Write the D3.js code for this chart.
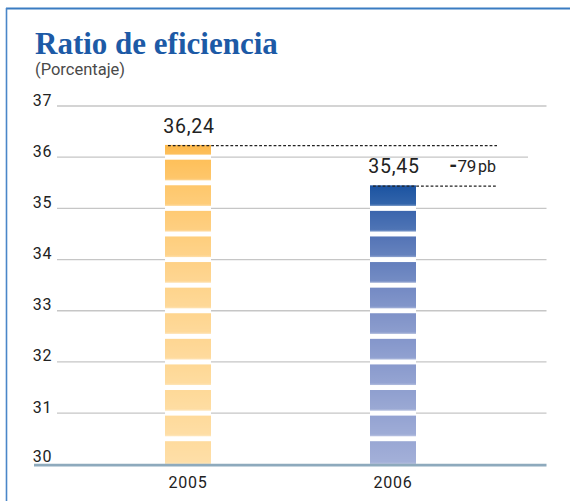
<!DOCTYPE html>
<html>
<head>
<meta charset="utf-8">
<script src="https://cdn.jsdelivr.net/npm/d3@7"></script>
<style>
  html, body { margin: 0; padding: 0; background: #fff; }
  svg { display: block; }
  .tick-label, .cat-label { font-family: Roboto, "Liberation Sans", sans-serif; fill: #222; }
</style>
</head>
<body>
<div id="chart"></div>
<script>
// data
const years = ["2005", "2006"];
const ratios = [36.24, 35.45];
const valueLabels = ["36,24", "35,45"];
const yTicks = [30, 31, 32, 33, 34, 35, 36, 37];
const deltaValue = "79";
const deltaUnit = "pb";
const titleText = "Ratio de eficiencia";
const subtitleText = "(Porcentaje)";

const W = 570, H = 501;
const base = 30;

const svg = d3.select("#chart")
  .append("svg")
  .attr("width", W)
  .attr("height", H);

const defs = svg.append("defs");
const shade = defs.append("linearGradient")
  .attr("id", "shade")
  .attr("x1", 0).attr("y1", 0).attr("x2", 0).attr("y2", 1);
shade.append("stop").attr("offset", "0%").attr("stop-color", "#fff").attr("stop-opacity", 0);
shade.append("stop").attr("offset", "90%").attr("stop-color", "#fff").attr("stop-opacity", 0.1);
shade.append("stop").attr("offset", "100%").attr("stop-color", "#fff").attr("stop-opacity", 0.35);

// frame
svg.append("line")
  .attr("x1", 6).attr("x2", W).attr("y1", 8.5).attr("y2", 8.5)
  .attr("stroke", "#3a7cc2").attr("stroke-width", 2);
svg.append("line")
  .attr("x1", 6.5).attr("x2", 6.5).attr("y1", 8).attr("y2", H)
  .attr("stroke", "#4a86c8").attr("stroke-width", 1.6);

// titles
svg.append("text")
  .attr("x", 35).attr("y", 54)
  .attr("font-family", "'Liberation Serif', 'DejaVu Serif', serif")
  .attr("font-weight", "bold")
  .attr("font-size", 31)
  .attr("fill", "#1d5aa6")
  .text(titleText);

svg.append("text")
  .attr("x", 35).attr("y", 75)
  .attr("font-family", "Roboto, 'Liberation Sans', sans-serif")
  .attr("font-size", 16.5)
  .attr("fill", "#4a4a4a")
  .text(subtitleText);

// scales
const y = d3.scaleLinear()
  .domain([30, 37])
  .range([464.3, 106]);

const x = d3.scaleBand()
  .domain(years)
  .range([85.5, 495.5])
  .paddingInner(0.7756)
  .paddingOuter(0.3878);

// grid
const gridEnd = { 36: 528 };
svg.append("g")
  .selectAll("line")
  .data(yTicks.filter(t => t !== base))
  .join("line")
  .attr("x1", 57)
  .attr("x2", d => gridEnd[d] || 546.5)
  .attr("y1", d => y(d)).attr("y2", d => y(d))
  .attr("stroke", "#c6c6c6")
  .attr("stroke-width", 1.3);

// y axis labels
const yAxis = d3.axisLeft(y)
  .tickValues(yTicks)
  .tickFormat(d3.format("d"))
  .tickSize(0)
  .tickPadding(0);
const yg = svg.append("g")
  .attr("transform", "translate(52,0)")
  .call(yAxis);
yg.select(".domain").remove();
yg.selectAll(".tick text")
  .attr("class", "tick-label")
  .attr("font-size", 16)
  .attr("letter-spacing", 0.6)
  .attr("dy", d => d === base ? -3 : -1)
  .attr("fill", "#222");

// bars: half-unit segments
const colorOrange = d3.scaleLinear()
  .domain([30, 33.5, 35.5, 36.24])
  .range(["#fedca0", "#fed38a", "#fec566", "#fdb643"]);
const colorBlue = d3.scaleLinear()
  .domain([30, 33, 34.5, 35.45])
  .range(["#9ca9d5", "#7c90c7", "#4c6eb3", "#0c4b9b"]);
const barColors = [colorOrange, colorBlue];

const gap = 2.5;
const bars = svg.selectAll(".bar")
  .data(years.map((yr, i) => ({ year: yr, value: ratios[i], color: barColors[i] })))
  .join("g")
  .attr("class", "bar")
  .attr("transform", d => `translate(${x(d.year)},0)`);

// white background hides gridlines behind the bars
bars.append("rect")
  .attr("x", 0)
  .attr("width", x.bandwidth())
  .attr("y", d => y(d.value))
  .attr("height", d => y(base) - y(d.value))
  .attr("fill", "#fff");

bars.each(function (d) {
  const segs = [];
  for (let lo = base; lo < d.value - 1e-9; lo += 0.5) {
    segs.push([lo, Math.min(lo + 0.5, d.value)]);
  }
  const g = d3.select(this);
  const rects = g.selectAll(".seg")
    .data(segs)
    .join("g")
    .attr("class", "seg");
  const top = s => y(s[1]) + (s[1] === d.value ? 0 : gap);
  const bottom = s => y(s[0]) - (s[0] === base ? 0 : gap);
  rects.append("rect")
    .attr("x", 0).attr("width", x.bandwidth())
    .attr("y", top)
    .attr("height", s => bottom(s) - top(s))
    .attr("fill", s => d.color((s[0] + s[1]) / 2));
  rects.append("rect")
    .attr("x", 0).attr("width", x.bandwidth())
    .attr("y", top)
    .attr("height", s => bottom(s) - top(s))
    .attr("fill", "url(#shade)");
});

// axis base line
svg.append("line")
  .attr("x1", 34).attr("x2", 546.5)
  .attr("y1", y(base) + 0.8).attr("y2", y(base) + 0.8)
  .attr("stroke", "#8eaabd")
  .attr("stroke-width", 2.6);

// dotted reference lines
bars.append("line")
  .attr("x1", 3)
  .attr("x2", d => 497 - x(d.year))
  .attr("y1", d => y(d.value) + 0.8)
  .attr("y2", d => y(d.value) + 0.8)
  .attr("stroke", "#222")
  .attr("stroke-width", 1.2)
  .attr("stroke-dasharray", "2.8,2");

// value labels
bars.append("text")
  .attr("x", x.bandwidth() / 2 + 1)
  .attr("y", d => y(d.value) - 12)
  .attr("text-anchor", "middle")
  .attr("font-family", "Roboto, 'Liberation Sans', sans-serif")
  .attr("font-size", 19.5)
  .attr("letter-spacing", 0.8)
  .attr("fill", "#222")
  .text((d, i) => valueLabels[i]);

// delta annotation
const delta = svg.append("text")
  .attr("x", 496)
  .attr("y", y(ratios[1]) - 13.5)
  .attr("text-anchor", "end")
  .attr("font-family", "Roboto, 'Liberation Sans', sans-serif")
  .attr("fill", "#222");
delta.append("tspan").attr("font-size", 19).attr("font-weight", "900").text("-");
delta.append("tspan").attr("font-size", 17).attr("letter-spacing", -0.3).text(deltaValue);
delta.append("tspan").attr("font-size", 16).attr("dx", 2).text(deltaUnit);

// category labels
const xAxis = d3.axisBottom(x).tickSize(0).tickPadding(0);
const xg = svg.append("g")
  .attr("transform", `translate(0,${y(base)})`)
  .call(xAxis);
xg.select(".domain").remove();
xg.selectAll(".tick text")
  .attr("class", "cat-label")
  .attr("font-size", 16)
  .attr("letter-spacing", 0.8)
  .attr("dy", 0)
  .attr("y", 24)
  .attr("fill", "#222");
</script>
</body>
</html>
